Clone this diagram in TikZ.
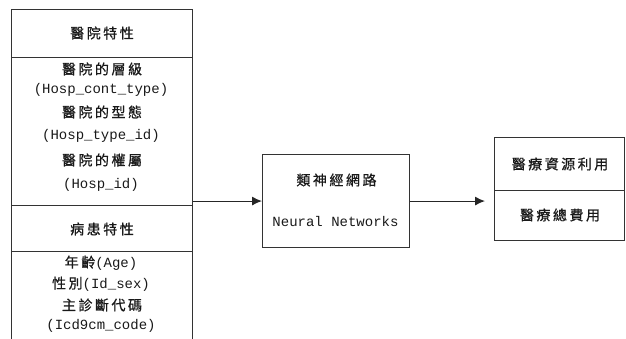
\documentclass[tikz,border=0pt]{standalone}
\usepackage{fontspec}
\setmainfont{Liberation Mono}
\newfontfamily\cjk[LetterSpace=18,FakeBold=0.8]{Noto Sans CJK TC}
\usetikzlibrary{arrows.meta}
\tikzset{
  box/.style={draw=black!80, line width=1.1pt, anchor=north west, inner sep=0pt},
  txt/.style={inner sep=0pt, font=\fontsize{14}{15}\selectfont, text=black!90},
  arr/.style={draw=black!85, line width=1.1pt, -{Latex[length=10pt,width=9pt]}}
}
\begin{document}
\begin{tikzpicture}[x=1pt,y=-1pt]
\useasboundingbox (0,0) rectangle (626,338);
\clip (0,0) rectangle (626,338);
% left column
\node[box, minimum width=181pt, minimum height=48pt] (h1) at (11,9) {};
\node[box, minimum width=181pt, minimum height=148pt] (h2) at (11,57) {};
\node[box, minimum width=181pt, minimum height=46pt] (p1) at (11,205) {};
\node[box, minimum width=181pt, minimum height=100pt] (p2) at (11,251) {};
\node[txt] (t1) at (102,33) {\cjk 醫院特性};
\node[txt] (t2) at (102,69) {\cjk 醫院的層級};
\node[txt] (t3) at (101,90) {(Hosp\_cont\_type)};
\node[txt] (t4) at (102,112) {\cjk 醫院的型態};
\node[txt] (t5) at (101,136) {(Hosp\_type\_id)};
\node[txt] (t6) at (102,160) {\cjk 醫院的權屬};
\node[txt] (t7) at (101,185) {(Hosp\_id)};
\node[txt] (t8) at (102,229) {\cjk 病患特性};
\node[txt] (t9) at (101,263) {{\cjk 年齡}(Age)};
\node[txt] (t10) at (101,284) {{\cjk 性別}(Id\_sex)};
\node[txt] (t11) at (102,305) {\cjk 主診斷代碼};
\node[txt] (t12) at (101,326) {(Icd9cm\_code)};
% neural network
\node[box, minimum width=147pt, minimum height=93pt] (nn) at (262,154) {};
\node[txt] (n1) at (336.5,180) {\cjk 類神經網路};
\node[txt] (n2) at (335.5,221) {Neural Networks};
% output
\node[box, minimum width=130pt, minimum height=53pt] (o1) at (494,137) {};
\node[box, minimum width=130pt, minimum height=50pt] (o2) at (494,190) {};
\node[txt] (u1) at (560,164) {\cjk 醫療資源利用};
\node[txt] (u2) at (560,215) {\cjk 醫療總費用};
% connectors
\draw[arr] (h2.east |- nn.west) -- (nn.west);
\draw[arr, shorten >=9pt] (nn.east) -- (o1.west |- nn.east);
\end{tikzpicture}
\end{document}
